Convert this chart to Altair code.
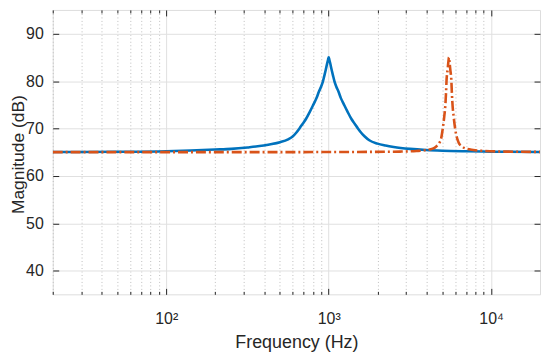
import altair as alt
import pandas as pd

# ---- data ----
freq_blue = [20, 50, 100, 141.3, 199.5, 251.2, 316.2, 398.1, 446.7, 501.2, 562.3, 599.8,
             631.0, 660.7, 691.8, 724.4, 767.4, 809.1, 841.4, 871.0, 897.5, 922.6, 939.7,
             959.4, 979.5, 990.8, 1000, 1009.3, 1021, 1042.3, 1064.1, 1083.9, 1114.2,
             1148.2, 1188.5, 1235.9, 1303.2, 1380.4, 1445.4, 1513.6, 1584.9, 1667.2,
             1778.3, 1995.3, 2238.7, 2511.9, 3162.3, 3981.1, 5011.9, 7079.5, 10000, 20000]
mag_blue = [65.02, 65.08, 65.2, 65.35, 65.55, 65.7, 66.0, 66.4, 66.7, 67.1, 67.7, 68.3,
            69.1, 70.0, 71.0, 72.0, 73.6, 75.2, 76.4, 77.8, 78.8, 80.0, 81.1,
            82.4, 83.8, 84.5, 85.0, 84.5, 83.8, 82.4, 81.1, 80.0, 78.8,
            77.8, 76.4, 75.2, 73.6, 72.0, 71.0, 70.0, 69.1, 68.3,
            67.5, 66.8, 66.4, 66.1, 65.7, 65.45, 65.3, 65.18, 65.1, 65.03]

freq_orange = [20, 100, 1000, 1380, 2190, 2757, 3470, 3894, 4369, 4575, 4790, 4925, 5039,
               5145, 5228, 5277, 5313, 5400, 5462, 5500, 5538, 5602, 5693, 5733, 5786,
               5880, 6003, 6143, 6315, 6612, 6924, 7769, 8717, 10974, 13815, 20000]
mag_orange = [65.0, 65.0, 65.02, 65.04, 65.08, 65.12, 65.25, 65.4, 65.75, 66.15, 66.9, 67.9,
              70.0, 72.5, 75.0, 77.5, 80.0, 82.5, 84.2, 85.0, 84.2, 82.5, 80.0, 77.5, 75.0,
              72.5, 70.0, 68.2, 67.0, 66.2, 65.8, 65.45, 65.3, 65.15, 65.1, 65.05]

x_major = [100, 1000, 10000]
x_minor = [20, 30, 40, 50, 60, 70, 80, 90,
           200, 300, 400, 500, 600, 700, 800, 900,
           2000, 3000, 4000, 5000, 6000, 7000, 8000, 9000]
y_ticks = [40, 50, 60, 70, 80, 90]

blue_df = pd.DataFrame({"f": freq_blue, "m": mag_blue})
orange_df = pd.DataFrame({"f": freq_orange, "m": mag_orange})

x_all = sorted(x_major + x_minor)
major_test = "indexof([100, 1000, 10000], datum.value) >= 0"

FONT = "Liberation Sans"
AX = "#262626"

xscale = alt.Scale(type="log", domain=[20, 20000], nice=False)
yscale = alt.Scale(domain=[35, 95], nice=False, zero=False)

x_bottom = alt.Axis(
    orient="bottom", values=x_all, grid=True,
    gridColor={"expr": f"{major_test} ? '#e0e0e0' : '#bdbdbd'"},
    gridDash={"expr": f"{major_test} ? [] : [1, 2.5]"},
    gridWidth=1,
    ticks=True, tickColor=AX, tickWidth=1,
    tickSize={"expr": f"{major_test} ? -6 : -3"},
    labelExpr="datum.value == 100 ? '10²' : datum.value == 1000 ? '10³' : datum.value == 10000 ? '10⁴' : ''",
    labelPadding=22, labelFont=FONT, labelFontSize=16, labelColor=AX,
    labelOverlap=False, labelFlush=False,
    title="Frequency (Hz)", titleFont=FONT, titleFontSize=18, titleFontWeight="normal",
    titleColor=AX, titleX=245, titleY=39, titleBaseline="top", titleAlign="center",
    domain=False,
)
y_left = alt.Axis(
    orient="left", values=y_ticks, grid=True, gridColor="#e0e0e0", gridWidth=1,
    ticks=True, tickColor=AX, tickWidth=1, tickSize={"expr": "-6"},
    labelPadding=15.5, labelFont=FONT, labelFontSize=16, labelColor=AX,
    title="Magnitude (dB)", titleFont=FONT, titleFontSize=17.5, titleFontWeight="normal",
    titleColor=AX, titleX=-43.5, titleY=145, titleBaseline="top", titleAlign="center",
    titleAngle=270, domain=False,
)
x_top = alt.Axis(
    orient="top", values=x_all, grid=False, labels=False, title=None, domain=False,
    ticks=True, tickColor=AX, tickWidth=1,
    tickSize={"expr": f"{major_test} ? -6 : -3"},
)
y_right = alt.Axis(
    orient="right", values=y_ticks, grid=False, labels=False, title=None, domain=False,
    ticks=True, tickColor=AX, tickWidth=1, tickSize={"expr": "-6"},
)

blue = alt.Chart(blue_df).mark_line(
    color="#0072BD", strokeWidth=2.6, interpolate="monotone", clip=True
).encode(
    x=alt.X("f:Q", scale=xscale, axis=x_bottom),
    y=alt.Y("m:Q", scale=yscale, axis=y_left),
)

orange = alt.Chart(orange_df).mark_line(
    color="#D95319", strokeWidth=2.6, interpolate="monotone", clip=True,
    strokeDash=[10, 3, 2, 3]
).encode(
    x=alt.X("f:Q", scale=xscale, axis=x_top),
    y=alt.Y("m:Q", scale=yscale, axis=y_right),
)

chart = alt.layer(blue, orange).resolve_axis(
    x="independent", y="independent"
).properties(
    width=490, height=286,
    autosize=alt.AutoSizeParams(type="none"),
    padding={"left": 45, "top": 1, "right": 2, "bottom": 57},
).configure_view(
    stroke=AX, strokeWidth=1
).configure(background="white")

chart.save("out.html", embed_options={"renderer": "svg", "actions": False})
